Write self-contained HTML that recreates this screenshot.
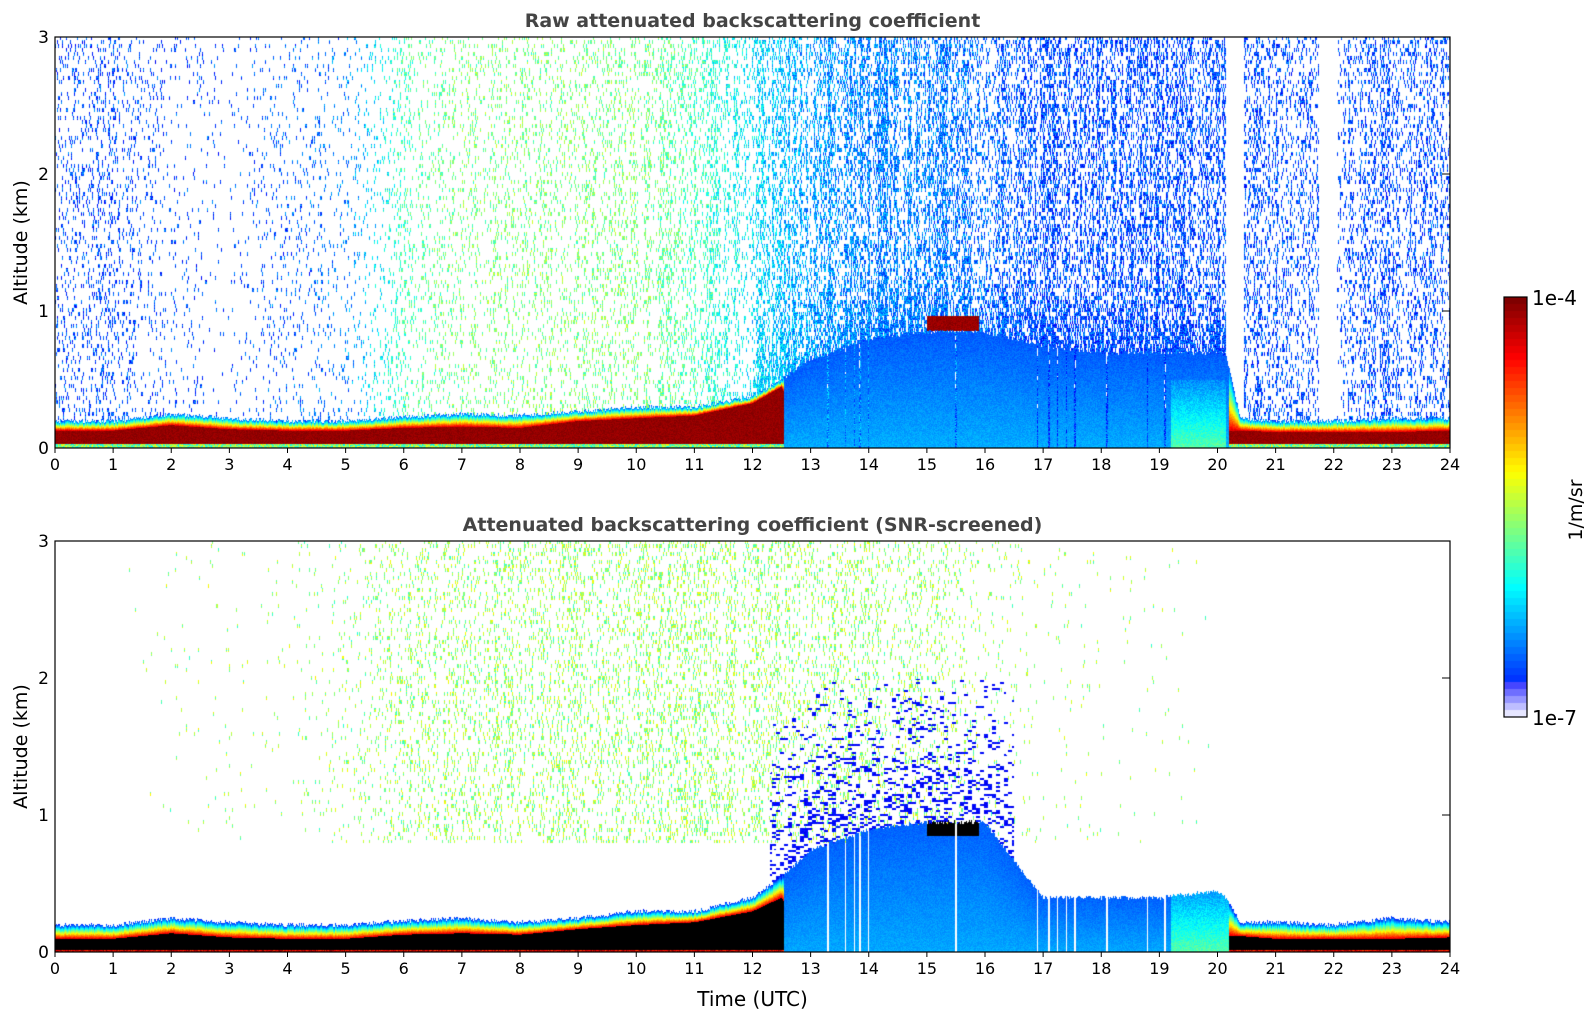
<!DOCTYPE html>
<html><head><meta charset="utf-8"><style>
body{margin:0;background:#fff;width:1595px;height:1020px;overflow:hidden;font-family:"DejaVu Sans","Liberation Sans",sans-serif}
#wrap{position:relative;width:1595px;height:1020px}
canvas{position:absolute;left:0;top:0}
svg{position:absolute;left:0;top:0;font-family:"DejaVu Sans","Liberation Sans",sans-serif}
</style></head><body>
<div id="wrap">
<canvas id="cv" width="1595" height="1020"></canvas>
<svg id="ov" width="1595" height="1020"></svg>
</div>
<script>
// ---- data ----
const layerTimes=[0,1,2,3,4,5,6,7,8,9,10,11,12,12.5,13,14,15,16,17,18,19,20,20.15,20.4,21,22,23,24];
const rawLayerTop=[0.2,0.2,0.25,0.22,0.2,0.2,0.23,0.25,0.24,0.27,0.3,0.3,0.38,0.5,0.65,0.8,0.85,0.85,0.75,0.7,0.7,0.7,0.68,0.22,0.2,0.2,0.22,0.22];
const rawCoreTop=[0.13,0.13,0.17,0.14,0.13,0.13,0.15,0.16,0.15,0.2,0.22,0.24,0.33,0.45,0,0,0,0,0,0,0,0,0.13,0.13,0.12,0.12,0.12,0.13];
const snrLayerTop=[0.2,0.2,0.25,0.22,0.2,0.2,0.23,0.25,0.22,0.25,0.3,0.3,0.4,0.55,0.75,0.9,0.95,0.95,0.4,0.4,0.4,0.45,0.4,0.22,0.22,0.2,0.25,0.22];
const snrCoreTop=[0.1,0.1,0.14,0.11,0.1,0.1,0.13,0.14,0.13,0.17,0.2,0.22,0.3,0.4,0,0,0,0,0,0,0,0,0.12,0.12,0.1,0.1,0.1,0.11];
const coreBands=[[0,12.55],[20.2,24]];
const noiseTimes=[0,1,2,3,4,5,6,7,8,9,10,11,12,13,14,15,16,17,18,19,20,21,22,23,24];
const rawNoise=[0.18,0.15,0.06,0.03,0.08,0.07,0.13,0.15,0.15,0.15,0.18,0.22,0.28,0.38,0.42,0.42,0.4,0.38,0.36,0.36,0.35,0.25,0.2,0.3,0.22];
const rawNoiseWarm=[0.0,0.0,0.0,0.0,0.02,0.05,0.25,0.3,0.3,0.3,0.3,0.25,0.15,0.08,0.05,0.05,0.03,0.0,0.0,0.0,0.0,0.0,0.0,0.0,0.0];
const snrNoise=[0,0,0.01,0.01,0.01,0.05,0.13,0.17,0.17,0.17,0.2,0.2,0.18,0.16,0.16,0.13,0.05,0.02,0.01,0.01,0,0,0,0,0];
const clearBands=[[20.15,20.45],[21.75,22.05]];
const gapHours=[12.2,12.35,13.3,13.6,13.75,13.85,14.0,15.5,16.9,17.1,17.25,17.4,17.55,18.1,18.8,19.1];
const xTicks=[0,1,2,3,4,5,6,7,8,9,10,11,12,13,14,15,16,17,18,19,20,21,22,23,24];
const yTicks=[0,1,2,3];
// ---- layout ----
const X0=55,X1=1450;
const panels=[{top:37,bot:448,title:"Raw attenuated backscattering coefficient",name:"raw"},
{top:541,bot:952,title:"Attenuated backscattering coefficient (SNR-screened)",name:"snr"}];
const xs=h=>X0+(X1-X0)*h/24;
function interpT(ts,arr,h){let i=0;while(i<ts.length-2&&h>ts[i+1])i++;const f=Math.max(0,Math.min(1,(h-ts[i])/(ts[i+1]-ts[i])));return arr[i]*(1-f)+arr[i+1]*f;}
function hash(a,b){let n=(a*374761393+b*668265263)|0;n=(n^(n>>>13))*1274126177|0;return ((n^(n>>>16))>>>0)/4294967296;}
function jet(v){v=Math.max(0,Math.min(1,v));const r=Math.min(1,Math.max(0,1.5-Math.abs(4*v-3))),g=Math.min(1,Math.max(0,1.5-Math.abs(4*v-2))),b=Math.min(1,Math.max(0,1.5-Math.abs(4*v-1)));return [r*255|0,g*255|0,b*255|0];}
const cv=document.getElementById('cv');const ctx=cv.getContext('2d');
const img=ctx.createImageData(1595,1020);const D=img.data;
for(let k=0;k<D.length;k+=4){D[k]=D[k+1]=D[k+2]=D[k+3]=255;}
function put(x,y,c){const k=(y*1595+x)*4;D[k]=c[0];D[k+1]=c[1];D[k+2]=c[2];D[k+3]=255;}
function inClear(h){return clearBands.some(b=>h>=b[0]&&h<=b[1]);}
function inCore(h){return coreBands.some(b=>h>=b[0]&&h<=b[1]);}
function isGap(h){return gapHours.some(g=>Math.abs(h-g)<0.012);}
panels.forEach((p,pi)=>{
 const H=p.bot-p.top;
 for(let x=X0;x<X1;x++){
  const h=(x-X0+0.5)/(X1-X0)*24;
  const gap=isGap(h);
  const colF=0.4+1.2*hash(x>>1,77+pi);
  for(let y=p.top;y<p.bot;y++){
   const z=(p.bot-y)/H*3;
   const r=hash(x+pi*7777,y);
   const rs=hash(x+pi*999,y>>2);
   let c=null;
   if(pi===0){
    const top=interpT(layerTimes,rawLayerTop,h)+(hash(x,3)-0.5)*0.03;
    const core=inCore(h)?interpT(layerTimes,rawCoreTop,h):0;
    if(z<top&&!(gap&&core===0)){
     if(core>0){ if(z<0.035) c=jet(0.35+r*0.3); else if(z<core) c=jet(0.96+r*0.04); else c=jet(0.88-(z-core)/(top-core)*0.7+r*0.05);}
     else { if(h>19.2&&h<20.15&&z<0.5) c=jet(0.22+0.2*(1-z/0.5)+r*0.08); else c=jet(0.19+0.08*(1-z/top)+r*0.05);}
    } else if(h>15&&h<15.9&&z>0.86&&z<0.97){ c=jet(0.95+r*0.05);}
    else if(!inClear(h)){
     let d=interpT(noiseTimes,rawNoise,h)*colF;
     if(h>12&&h<20.15&&z<top+0.5) d=Math.min(1,d+0.35*(1-(z-top)/0.5));
     if(rs<d) c=jet(0.1+interpT(noiseTimes,rawNoiseWarm,h)+r*0.2);
    }
   } else {
    const top=interpT(layerTimes,snrLayerTop,h)+(hash(x,5)-0.5)*0.03;
    const core=inCore(h)?interpT(layerTimes,snrCoreTop,h):0;
    if(z<top&&!(gap&&core===0)){
     if(core>0){ if(z<0.02) c=jet(0.8+r*0.2); else if(z<core) c=[0,0,0]; else c=jet(0.88-(z-core)/(top-core)*0.75+r*0.05);}
     else { if(h>15&&h<15.9&&z>0.85) c=[0,0,0]; else if(h>19.2&&h<20.2) c=jet(0.22+0.2*(1-z/0.5)+r*0.08); else c=jet(0.2+0.07*(1-z/top)+r*0.04);}
    } else {
     if(h>12.3&&h<16.5&&z>top&&z<2.0&&hash(x>>2,(y>>1)+11)<0.3*(1-(z-top)/1.3)) c=jet(0.1+r*0.06);
     else if(z>0.8&&rs<interpT(noiseTimes,snrNoise,h)*colF) c=jet(0.4+r*0.25);
    }
   }
   if(c) put(x,y,c);
  }
 }
});
// colorbar
const CB={x:1504,w:23,top:297,bot:717};
const levels=60;
for(let i=0;i<levels;i++){
 const v=i/(levels-1);let c;
 if(i<5){const t=i/5;c=[Math.round(230-t*200),Math.round(230-t*200),255];} else c=jet(0.1+v*0.9);
 const y0=Math.round(CB.bot-(i+1)*(CB.bot-CB.top)/levels),y1=Math.round(CB.bot-i*(CB.bot-CB.top)/levels);
 for(let y=y0;y<y1;y++)for(let x=CB.x;x<CB.x+CB.w;x++)put(x,y,c);
}
ctx.putImageData(img,0,0);
// ---- overlay ----
const svg=document.getElementById('ov');const NS='http://www.w3.org/2000/svg';
function el(t,a,txt){const e=document.createElementNS(NS,t);for(const k in a)e.setAttribute(k,a[k]);if(txt!==undefined)e.textContent=txt;svg.appendChild(e);return e;}
panels.forEach(p=>{
 const H=p.bot-p.top;
 const fr=el('rect',{x:X0,y:p.top,width:X1-X0,height:H,fill:'none',stroke:'#000','stroke-width':1.2});
 
 const t=el('text',{x:(X0+X1)/2,y:p.top-10,'text-anchor':'middle','font-size':19,'font-weight':'bold',fill:'#444'},p.title);
 
 xTicks.forEach(v=>{const x=xs(v);
  const l=el('line',{x1:x,x2:x,y1:p.bot,y2:p.bot+5,stroke:'#000'});
  const tl=el('text',{x:x,y:p.bot+22,'text-anchor':'middle','font-size':16},String(v));});
 yTicks.forEach(v=>{const y=p.bot-v/3*H;
  const l=el('line',{x1:X1-8,x2:X1,y1:y,y2:y,stroke:'#000'});
  const tl=el('text',{x:X0-6,y:y+6,'text-anchor':'end','font-size':17},String(v));});
 const yl=el('text',{x:27,y:(p.top+p.bot)/2,'text-anchor':'middle','font-size':19,transform:`rotate(-90 27 ${(p.top+p.bot)/2})`},'Altitude (km)');
 
});
const xl=el('text',{x:(X0+X1)/2,y:1006,'text-anchor':'middle','font-size':20},'Time (UTC)');

const cbf=el('rect',{x:CB.x,y:CB.top,width:CB.w,height:CB.bot-CB.top,fill:'none',stroke:'#000','stroke-width':1.2});

const c1=el('text',{x:1532,y:305,'font-size':20},'1e-4');
const c2=el('text',{x:1532,y:725,'font-size':20},'1e-7');
const cu=el('text',{x:1582,y:510,'text-anchor':'middle','font-size':19,transform:'rotate(-90 1582 510)'},'1/m/sr');

</script>
</body></html>
